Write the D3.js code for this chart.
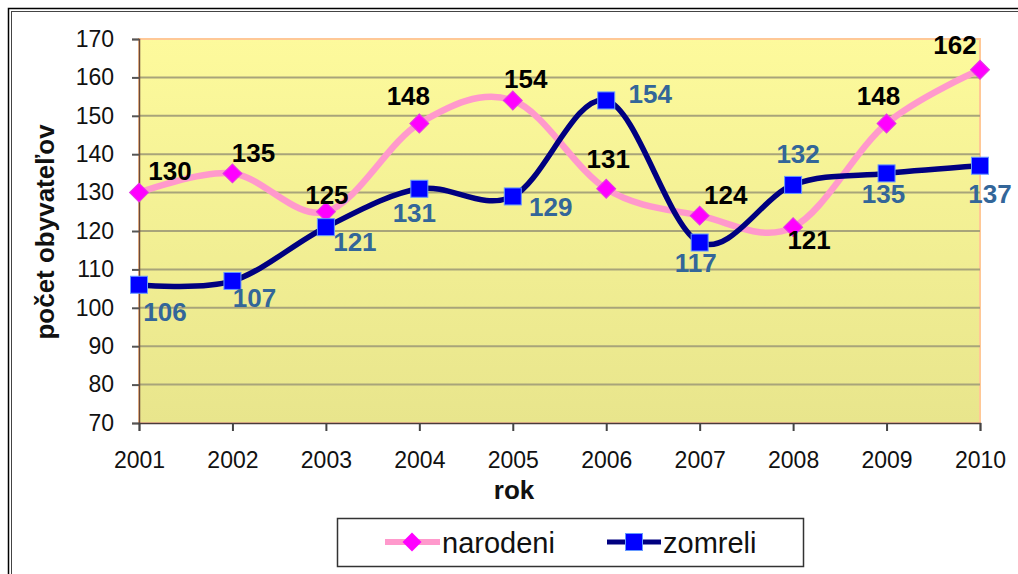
<!DOCTYPE html>
<html>
<head>
<meta charset="utf-8">
<script src="https://cdn.jsdelivr.net/npm/d3@7"></script>
<style>
  body { margin: 0; background: #fff; }
  text { font-family: "Liberation Sans", Arial, sans-serif; }
</style>
</head>
<body>
<div id="renderDiv"></div>
<script>
// data
const years = [2001, 2002, 2003, 2004, 2005, 2006, 2007, 2008, 2009, 2010];
const narodeni = [130, 135, 125, 148, 154, 131, 124, 121, 148, 162];
const zomreli = [106, 107, 121, 131, 129, 154, 117, 132, 135, 137];
const yTicks = [70, 80, 90, 100, 110, 120, 130, 140, 150, 160, 170];

// label offsets (px) relative to each point
const narodeniLbl = [[31, -22], [21, -21], [1, -17], [-11, -28], [13, -22], [2, -30], [26, -21], [16, 13], [-8, -28], [-25, -25]];
const zomreliLbl = [[26, 27], [22, 17], [29, 15], [-5, 24], [38, 10], [44, -7], [-4, 20], [5, -31], [-3, 20], [10, 28]];

const WIDTH = 1018, HEIGHT = 574;
const margin = { left: 139, right: 38, top: 39, bottom: 151 };
const w = WIDTH - margin.left - margin.right,
    h = HEIGHT - margin.top - margin.bottom;

let svg = d3.select("#renderDiv").append("svg")
    .attr("width", WIDTH).attr("height", HEIGHT);

// outer frame (double line)
svg.append("rect").attr("x", 8.5).attr("y", 8.5).attr("width", 1030).attr("height", 600)
    .attr("fill", "none").attr("stroke", "#000").attr("stroke-width", 1.5);
svg.append("rect").attr("x", 11.5).attr("y", 11.5).attr("width", 1030).attr("height", 600)
    .attr("fill", "none").attr("stroke", "#444").attr("stroke-width", 1);

let defs = svg.append("defs");
let grad = defs.append("linearGradient").attr("id", "bg")
    .attr("x1", 0).attr("y1", 0).attr("x2", 0).attr("y2", 1);
grad.append("stop").attr("offset", "0%").attr("stop-color", "#FDFA9C");
grad.append("stop").attr("offset", "100%").attr("stop-color", "#E8E58C");

let g = svg.append("g")
    .attr("transform", "translate(" + margin.left + "," + margin.top + ")");

let x = d3.scalePoint().domain(years).range([0, w]);
let y = d3.scaleLinear().domain([70, 170]).range([h, 0]);

g.append("rect").attr("width", w).attr("height", h)
    .attr("fill", "url(#bg)").attr("stroke", "#FFC896").attr("stroke-width", 2);

// gridlines
g.append("g").selectAll("line")
    .data(yTicks.slice(1, -1))
    .enter().append("line")
    .attr("x1", 0).attr("x2", w)
    .attr("y1", d => y(d)).attr("y2", d => y(d))
    .attr("stroke", "#A8A47A").attr("stroke-width", 2);

// axes
let yAxis = g.append("g")
    .call(d3.axisLeft(y).tickValues(yTicks).tickSize(7).tickPadding(18));
yAxis.select(".domain").attr("stroke", "#6B4A3A").attr("stroke-width", 1.5);
yAxis.selectAll(".tick line").attr("stroke", "#555").attr("stroke-width", 2);
yAxis.selectAll("text").style("font-size", "23px").attr("fill", "#111")
    .style("font-family", "Liberation Sans, Arial, sans-serif");

let xAxis = g.append("g").attr("transform", "translate(0," + h + ")")
    .call(d3.axisBottom(x).tickSize(8).tickPadding(21).tickFormat(d3.format("d")));
xAxis.select(".domain").attr("stroke", "#4A3A3A").attr("stroke-width", 1.5);
xAxis.selectAll(".tick line").attr("stroke", "#444").attr("stroke-width", 2);
xAxis.selectAll("text").style("font-size", "23px").attr("fill", "#111")
    .style("font-family", "Liberation Sans, Arial, sans-serif");

// axis titles
svg.append("text").attr("transform", "translate(45,232) rotate(-90)")
    .attr("text-anchor", "middle").attr("dy", "0.35em").style("font-size", "26px").attr("font-weight", "bold")
    .attr("fill", "#111").text("počet obyvateľov");
svg.append("text").attr("x", 514).attr("y", 499)
    .attr("text-anchor", "middle").style("font-size", "26px").attr("font-weight", "bold")
    .attr("fill", "#111").text("rok");

let line = d3.line()
    .x((d, i) => x(years[i]))
    .y(d => y(d))
    .curve(d3.curveCatmullRom.alpha(0));

// narodeni
g.append("path").datum(narodeni).attr("d", line)
    .attr("fill", "none").attr("stroke", "#FF99CC").attr("stroke-width", 6.5);
// zomreli
g.append("path").datum(zomreli).attr("d", line)
    .attr("fill", "none").attr("stroke", "#000080").attr("stroke-width", 5.5);

const diamond = d3.symbol().type(d3.symbolSquare).size(180);
g.selectAll(".dia").data(narodeni).enter().append("path")
    .attr("class", "dia")
    .attr("transform", (d, i) => "translate(" + x(years[i]) + "," + y(d) + ") rotate(45)")
    .attr("d", diamond)
    .attr("fill", "#FF00FF").attr("stroke", "#E040E0").attr("stroke-width", 1);

g.selectAll(".sq").data(zomreli).enter().append("rect")
    .attr("class", "sq")
    .attr("x", (d, i) => x(years[i]) - 8.5).attr("y", d => y(d) - 8.5)
    .attr("width", 17).attr("height", 17)
    .attr("fill", "#0000FF").attr("stroke", "#6699FF").attr("stroke-width", 1);

// value labels
g.selectAll(".nl").data(narodeni).enter().append("text")
    .attr("class", "nl")
    .attr("x", (d, i) => x(years[i]) + narodeniLbl[i][0])
    .attr("y", (d, i) => y(d) + narodeniLbl[i][1])
    .attr("dy", "0.35em").attr("text-anchor", "middle")
    .style("font-size", "26px").attr("font-weight", "bold").attr("fill", "#000")
    .text(d => d);

g.selectAll(".zl").data(zomreli).enter().append("text")
    .attr("class", "zl")
    .attr("x", (d, i) => x(years[i]) + zomreliLbl[i][0])
    .attr("y", (d, i) => y(d) + zomreliLbl[i][1])
    .attr("dy", "0.35em").attr("text-anchor", "middle")
    .style("font-size", "26px").attr("font-weight", "bold").attr("fill", "#336699")
    .text(d => d);

// legend
let lg = svg.append("g");
lg.append("rect").attr("x", 337.5).attr("y", 518.5).attr("width", 466).attr("height", 48)
    .attr("fill", "#fff").attr("stroke", "#333").attr("stroke-width", 1.5);
lg.append("line").attr("x1", 385).attr("x2", 440).attr("y1", 542).attr("y2", 542)
    .attr("stroke", "#FF99CC").attr("stroke-width", 6);
lg.append("path").attr("transform", "translate(412,542) rotate(45)")
    .attr("d", diamond)
    .attr("fill", "#FF00FF");
lg.append("text").attr("x", 442).attr("y", 553).style("font-size", "29px").attr("fill", "#111")
    .text("narodeni");
lg.append("line").attr("x1", 607).attr("x2", 661).attr("y1", 542).attr("y2", 542)
    .attr("stroke", "#000080").attr("stroke-width", 5);
lg.append("rect").attr("x", 625.5).attr("y", 533.5).attr("width", 17).attr("height", 17)
    .attr("fill", "#0000FF").attr("stroke", "#6699FF");
lg.append("text").attr("x", 663).attr("y", 553).style("font-size", "29px").attr("fill", "#111")
    .text("zomreli");
</script>
</body>
</html>
